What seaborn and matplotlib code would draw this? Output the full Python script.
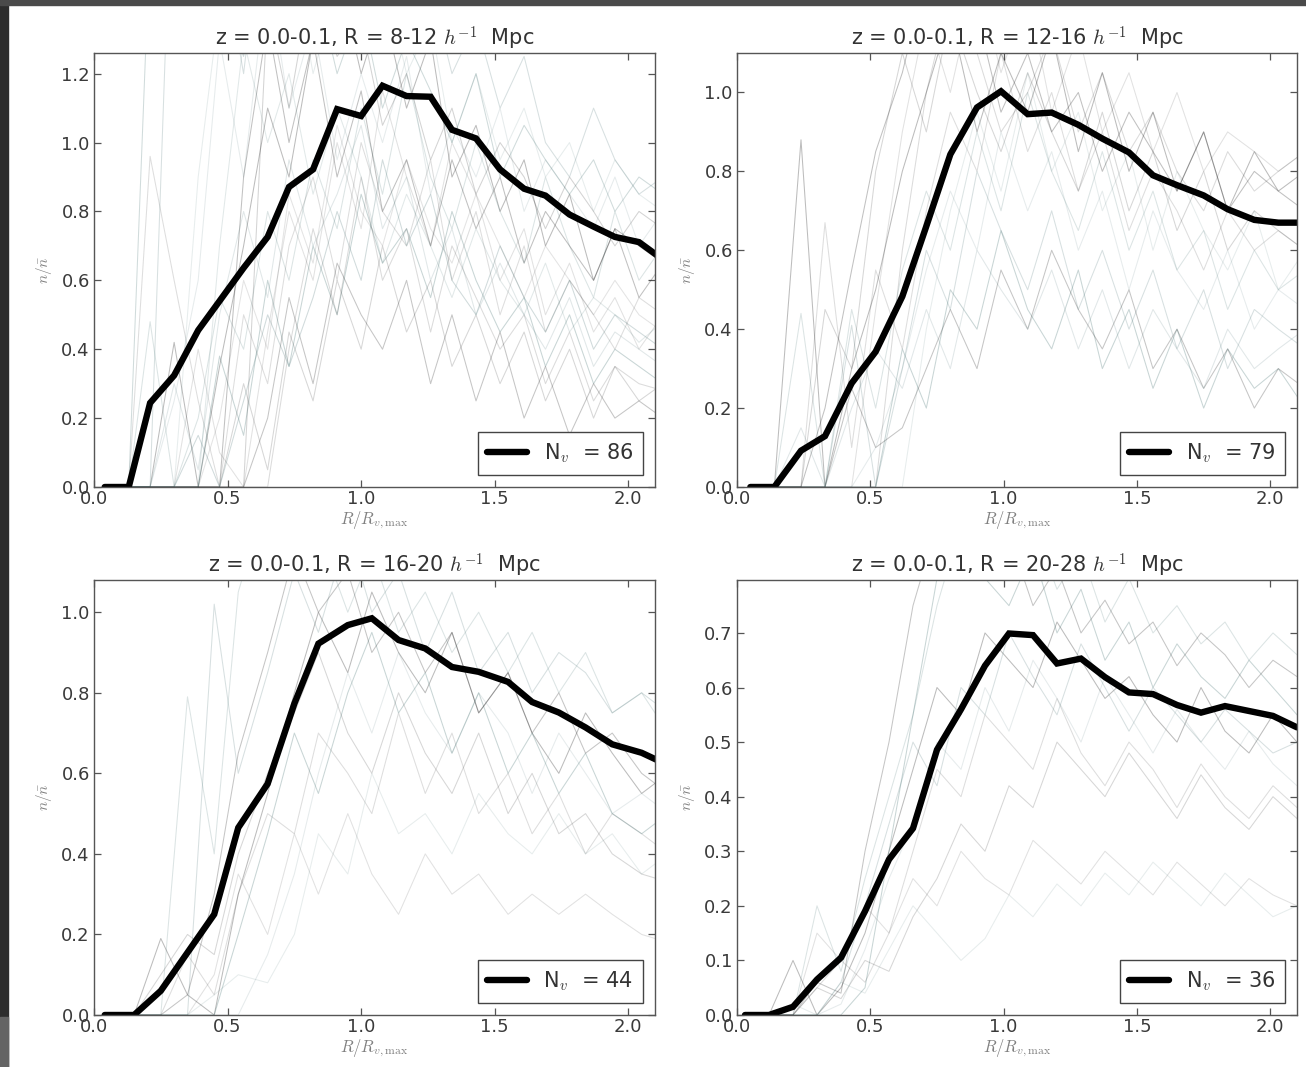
import matplotlib
matplotlib.use("Agg")
import matplotlib.pyplot as plt
from matplotlib.patches import Rectangle
from matplotlib.ticker import MultipleLocator, FormatStrFormatter
import seaborn as sns

# ---- radial bins (R / R_v,max) for each void-size bin ----
r_8_12 = [0.04, 0.13, 0.21, 0.30, 0.39, 0.47, 0.56, 0.65, 0.73, 0.82, 0.91, 1.00, 1.08,
          1.17, 1.26, 1.34, 1.43, 1.52, 1.61, 1.69, 1.78, 1.87, 1.95, 2.04, 2.13]
r_12_16 = [0.05, 0.14, 0.24, 0.33, 0.43, 0.52, 0.62, 0.71, 0.80, 0.90, 0.99, 1.09,
           1.18, 1.28, 1.37, 1.47, 1.56, 1.65, 1.75, 1.84, 1.94, 2.03, 2.13]
r_16_20 = [0.04, 0.15, 0.25, 0.35, 0.45, 0.54, 0.65, 0.75, 0.84, 0.95, 1.04, 1.14,
           1.24, 1.34, 1.44, 1.55, 1.64, 1.74, 1.84, 1.94, 2.05, 2.15]
r_20_28 = [0.03, 0.12, 0.21, 0.30, 0.39, 0.48, 0.57, 0.66, 0.75, 0.84, 0.93, 1.02,
           1.11, 1.20, 1.29, 1.38, 1.47, 1.56, 1.65, 1.74, 1.83, 1.92, 2.01, 2.10]

# ---- stacked (mean) density profiles n / n_bar ----
mean_8_12 = [0, 0, 0.244, 0.324, 0.455, 0.54, 0.636, 0.726, 0.871, 0.922, 1.097, 1.077,
             1.165, 1.135, 1.133, 1.037, 1.012, 0.922, 0.866, 0.846, 0.791, 0.756,
             0.726, 0.711, 0.66]
mean_12_16 = [0, 0, 0.092, 0.129, 0.263, 0.343, 0.483, 0.661, 0.843, 0.962, 1.003,
              0.945, 0.949, 0.918, 0.883, 0.848, 0.79, 0.765, 0.739, 0.704, 0.677,
              0.67, 0.67]
mean_16_20 = [0, 0, 0.06, 0.155, 0.25, 0.465, 0.574, 0.773, 0.922, 0.968, 0.985, 0.931,
              0.91, 0.864, 0.852, 0.827, 0.777, 0.751, 0.714, 0.672, 0.651, 0.62]
mean_20_28 = [0, 0, 0.015, 0.065, 0.105, 0.19, 0.285, 0.342, 0.486, 0.56, 0.64, 0.699,
              0.696, 0.644, 0.653, 0.619, 0.591, 0.588, 0.568, 0.554, 0.566, 0.557,
              0.548, 0.527]

# ---- individual void profiles ----
voids_8_12 = [
    [0, 0, 0, 0.42, 0, 0.35, 0.7, 1.1, 0.9, 1.3, 1.5, 1.2, 1.4, 1.1, 1.3, 0.9, 1.05, 0.8, 0.95, 0.7, 0.85, 0.6, 0.75, 0.7, 0.65],
    [0, 0, 0.48, 0, 0.2, 0.55, 0.4, 0.8, 0.6, 0.95, 0.75, 1.1, 0.85, 1.2, 0.9, 0.75, 1.0, 0.8, 0.65, 0.9, 0.7, 0.55, 0.8, 0.6, 0.7],
    [0, 0, 0.96, 0.6, 0.25, 0, 0.5, 0.3, 0.7, 0.9, 0.6, 1.0, 0.8, 0.7, 0.95, 0.6, 0.8, 0.5, 0.7, 0.45, 0.6, 0.5, 0.4, 0.55, 0.5],
    [0, 0, 0, 2.0, 1.4, 1.6, 1.2, 1.8, 1.5, 1.3, 1.7, 1.4, 1.6, 1.3, 1.45, 1.2, 1.35, 1.1, 1.25, 1.0, 0.9, 1.1, 0.95, 0.85, 0.9],
    [0, 0, 0, 0, 0.4, 0.1, 0, 0.45, 0.8, 0.6, 1.0, 0.75, 1.15, 0.9, 0.7, 1.0, 0.85, 0.6, 0.75, 0.5, 0.65, 0.45, 0.55, 0.4, 0.5],
    [0, 0, 0, 0, 0, 0.38, 0.15, 0.6, 0.35, 0.7, 0.5, 0.85, 0.65, 0.75, 0.55, 0.8, 0.6, 0.45, 0.55, 0.35, 0.5, 0.3, 0.4, 0.35, 0.3],
    [0, 0, 0, 0, 0, 0, 0.3, 0.05, 0.45, 0.25, 0.6, 0.4, 0.7, 0.45, 0.6, 0.35, 0.5, 0.3, 0.45, 0.25, 0.4, 0.2, 0.35, 0.25, 0.3],
    [0, 0, 0, 0.25, 0.6, 1.3, 0.9, 1.5, 1.1, 1.35, 0.95, 1.2, 1.0, 1.25, 0.85, 1.05, 0.9, 1.1, 0.8, 0.95, 0.85, 0.75, 0.9, 0.7, 0.8],
    [0, 0, 0, 0, 0, 0, 0, 0.2, 0.55, 0.3, 0.65, 0.5, 0.4, 0.6, 0.3, 0.5, 0.25, 0.45, 0.2, 0.35, 0.15, 0.3, 0.2, 0.25, 0.2],
    [0, 0, 0, 0, 0.9, 1.4, 1.7, 1.3, 1.6, 1.2, 1.45, 1.3, 1.5, 1.2, 1.35, 1.0, 1.2, 0.95, 1.1, 0.9, 1.0, 0.8, 0.95, 0.85, 0.8],
    [0, 0, 0, 0, 0, 0, 0.9, 1.35, 1.0, 1.3, 0.9, 1.15, 0.8, 0.95, 0.7, 0.95, 0.75, 0.9, 0.65, 0.8, 0.7, 0.6, 0.75, 0.55, 0.65],
    [0, 0, 0, 0.3, 0.05, 0.5, 0.8, 0.55, 0.95, 0.7, 0.85, 1.05, 0.75, 0.9, 0.6, 0.75, 0.5, 0.65, 0.5, 0.4, 0.55, 0.35, 0.45, 0.4, 0.35],
    [0, 0, 0, 0, 0, 0, 0, 0, 0.4, 0.75, 0.5, 0.9, 0.6, 0.75, 0.45, 0.7, 0.55, 0.4, 0.5, 0.3, 0.45, 0.25, 0.35, 0.3, 0.28],
    [0, 0, 1.6, 1.3, 1.9, 1.5, 1.25, 1.6, 1.35, 1.5, 1.2, 1.4, 1.1, 1.3, 1.15, 1.0, 1.2, 0.9, 1.05, 0.95, 0.85, 0.95, 0.8, 0.9, 0.85],
    [0, 0, 0, 0, 0, 0.2, 0.6, 0.4, 0.85, 0.65, 1.05, 0.8, 0.7, 0.95, 0.75, 0.65, 0.85, 0.7, 0.55, 0.7, 0.6, 0.5, 0.6, 0.5, 0.45],
    [0, 0, 0, 0, 0.15, 0, 0.25, 0.5, 0.35, 0.55, 0.8, 0.6, 0.95, 0.7, 0.85, 0.6, 0.5, 0.7, 0.55, 0.45, 0.6, 0.4, 0.5, 0.45, 0.4],
    [0, 0, 0, 0, 0, 0, 0, 1.4, 1.1, 1.5, 1.25, 1.35, 1.05, 1.2, 0.95, 1.1, 0.85, 1.0, 0.9, 0.75, 0.9, 0.8, 0.7, 0.8, 0.75],
    [0, 0, 0, 0, 0, 0.7, 1.3, 1.0, 1.2, 0.85, 1.1, 0.9, 0.65, 0.85, 0.7, 0.55, 0.75, 0.6, 0.5, 0.65, 0.45, 0.55, 0.5, 0.42, 0.48],
]
voids_12_16 = [
    [0, 0, 0.88, 0, 0.3, 0.5, 0.8, 1.0, 1.2, 0.9, 1.1, 0.95, 1.15, 0.85, 1.05, 0.8, 0.95, 0.75, 0.9, 0.7, 0.85, 0.75, 0.8],
    [0, 0, 0.44, 0, 0.45, 0.2, 0.55, 0.75, 0.6, 0.9, 0.7, 1.0, 0.8, 0.65, 0.85, 0.6, 0.75, 0.55, 0.65, 0.45, 0.6, 0.5, 0.55],
    [0, 0, 0, 0.67, 0.1, 0.55, 0.35, 0.7, 0.95, 0.8, 1.1, 0.85, 1.0, 0.75, 0.9, 0.65, 0.8, 0.7, 0.55, 0.7, 0.6, 0.65, 0.6],
    [0, 0, 0, 0, 0.41, 0, 0.3, 0.6, 0.45, 0.8, 0.65, 0.5, 0.7, 0.45, 0.6, 0.4, 0.55, 0.35, 0.5, 0.3, 0.45, 0.4, 0.35],
    [0, 0, 0, 0, 0, 0.45, 0.9, 1.2, 1.0, 1.3, 1.05, 1.25, 0.95, 1.15, 0.9, 1.05, 0.85, 1.0, 0.8, 0.9, 0.85, 0.8, 0.85],
    [0, 0, 0, 0, 0, 0, 0.35, 0.2, 0.5, 0.4, 0.65, 0.45, 0.35, 0.55, 0.3, 0.45, 0.25, 0.4, 0.2, 0.35, 0.25, 0.3, 0.2],
    [0, 0, 0, 0.45, 0.3, 0.8, 1.1, 0.9, 1.2, 1.0, 0.85, 1.05, 0.9, 0.75, 0.95, 0.7, 0.85, 0.65, 0.8, 0.6, 0.7, 0.65, 0.6],
    [0, 0, 0, 0, 0, 0.1, 0.3, 0.55, 0.75, 0.6, 0.9, 0.7, 0.85, 0.6, 0.75, 0.5, 0.7, 0.55, 0.45, 0.6, 0.4, 0.5, 0.45],
    [0, 0, 0, 0, 0.25, 0.1, 0.15, 0.3, 0.45, 0.3, 0.55, 0.4, 0.6, 0.45, 0.35, 0.5, 0.3, 0.4, 0.25, 0.35, 0.2, 0.3, 0.25],
    [0, 0, 0, 0, 0, 0, 0, 0.4, 0.7, 0.95, 0.75, 1.05, 0.8, 0.95, 0.7, 0.85, 0.6, 0.8, 0.65, 0.55, 0.7, 0.5, 0.6],
    [0, 0, 0, 0.2, 0.55, 0.85, 1.05, 1.3, 1.1, 1.2, 0.95, 1.1, 0.9, 1.0, 0.8, 0.95, 0.85, 0.75, 0.9, 0.7, 0.8, 0.75, 0.7],
    [0, 0, 0.15, 0, 0.2, 0.35, 0.25, 0.45, 0.3, 0.6, 0.5, 0.4, 0.55, 0.35, 0.5, 0.3, 0.45, 0.35, 0.25, 0.4, 0.3, 0.35, 0.4],
    [0, 0, 0, 0, 0, 0, 0.6, 1.0, 1.25, 1.1, 0.9, 1.0, 1.15, 0.9, 1.05, 0.85, 0.95, 0.8, 0.7, 0.85, 0.75, 0.8, 0.85],
]
voids_16_20 = [
    [0, 0, 0.19, 0.05, 0, 0.3, 0.55, 0.8, 1.0, 0.85, 1.05, 0.9, 0.8, 0.95, 0.75, 0.85, 0.7, 0.6, 0.75, 0.65, 0.55, 0.6],
    [0, 0, 0, 0.79, 0.4, 1.05, 1.3, 1.1, 1.2, 1.0, 1.15, 0.95, 1.05, 0.9, 1.0, 0.85, 0.95, 0.8, 0.9, 0.75, 0.8, 0.7],
    [0, 0, 0, 0.15, 0.05, 0.3, 0.5, 0.45, 0.7, 0.6, 0.5, 0.75, 0.55, 0.7, 0.5, 0.6, 0.45, 0.55, 0.4, 0.5, 0.45, 0.4],
    [0, 0, 0, 0, 1.02, 0.6, 0.85, 1.1, 0.95, 1.2, 1.0, 1.1, 0.9, 1.05, 0.85, 0.95, 0.8, 0.9, 0.85, 0.75, 0.8, 0.75],
    [0, 0, 0, 0, 0.1, 0.35, 0.2, 0.45, 0.3, 0.5, 0.35, 0.25, 0.4, 0.3, 0.35, 0.25, 0.3, 0.25, 0.3, 0.25, 0.2, 0.18],
    [0, 0, 0, 0, 0, 0.2, 0.45, 0.7, 0.55, 0.8, 0.95, 0.75, 0.85, 0.65, 0.8, 0.6, 0.7, 0.55, 0.65, 0.5, 0.45, 0.5],
    [0, 0, 0.1, 0.2, 0.15, 0.4, 0.6, 0.75, 0.9, 0.7, 0.6, 0.8, 0.65, 0.55, 0.7, 0.5, 0.6, 0.45, 0.5, 0.4, 0.35, 0.33],
    [0, 0, 0, 0, 0, 0, 0.15, 0.35, 0.6, 0.85, 0.7, 0.9, 0.75, 0.65, 0.8, 0.7, 0.55, 0.7, 0.6, 0.5, 0.55, 0.5],
    [0, 0, 0, 0.05, 0.3, 0.65, 0.9, 1.15, 1.0, 1.1, 0.9, 1.0, 0.85, 0.95, 0.75, 0.85, 0.7, 0.8, 0.65, 0.7, 0.6, 0.55],
    [0, 0, 0, 0, 0.05, 0.1, 0.08, 0.2, 0.45, 0.35, 0.6, 0.45, 0.5, 0.4, 0.55, 0.45, 0.4, 0.5, 0.4, 0.45, 0.35, 0.4],
]
voids_20_28 = [
    [0, 0, 0.1, 0.0, 0.05, 0.15, 0.3, 0.45, 0.6, 0.55, 0.7, 0.65, 0.6, 0.72, 0.65, 0.58, 0.62, 0.55, 0.5, 0.6, 0.52, 0.48, 0.55, 0.5],
    [0, 0, 0, 0.2, 0.08, 0.25, 0.4, 0.55, 0.75, 0.9, 0.85, 0.8, 0.9, 0.78, 0.85, 0.72, 0.8, 0.7, 0.75, 0.68, 0.72, 0.65, 0.7, 0.66],
    [0, 0, 0, 0.05, 0.1, 0.06, 0.15, 0.3, 0.45, 0.4, 0.55, 0.5, 0.45, 0.58, 0.48, 0.42, 0.5, 0.45, 0.38, 0.46, 0.4, 0.36, 0.42, 0.38],
    [0, 0, 0, 0, 0.06, 0.2, 0.35, 0.5, 0.42, 0.6, 0.55, 0.7, 0.62, 0.55, 0.68, 0.6, 0.52, 0.6, 0.55, 0.5, 0.56, 0.52, 0.48, 0.5],
    [0, 0, 0, 0.15, 0.1, 0.2, 0.15, 0.25, 0.2, 0.3, 0.25, 0.22, 0.32, 0.28, 0.24, 0.3, 0.26, 0.22, 0.28, 0.24, 0.2, 0.25, 0.22, 0.2],
    [0, 0, 0, 0, 0, 0.05, 0.3, 0.55, 0.8, 0.95, 0.8, 0.75, 0.85, 0.7, 0.78, 0.65, 0.72, 0.6, 0.68, 0.62, 0.58, 0.65, 0.6, 0.55],
    [0, 0, 0, 0.05, 0.03, 0.1, 0.08, 0.18, 0.25, 0.35, 0.3, 0.42, 0.38, 0.5, 0.45, 0.4, 0.48, 0.42, 0.36, 0.44, 0.38, 0.34, 0.4, 0.36],
    [0, 0, 0, 0, 0.02, 0.12, 0.25, 0.35, 0.5, 0.45, 0.6, 0.52, 0.65, 0.58, 0.5, 0.62, 0.55, 0.48, 0.56, 0.5, 0.45, 0.52, 0.46, 0.42],
    [0, 0, 0, 0.06, 0.04, 0.3, 0.5, 0.75, 0.9, 0.85, 0.8, 0.88, 0.75, 0.82, 0.7, 0.76, 0.68, 0.72, 0.64, 0.7, 0.66, 0.6, 0.65, 0.62],
    [0, 0, 0.02, 0, 0.06, 0.04, 0.12, 0.2, 0.15, 0.1, 0.14, 0.22, 0.18, 0.24, 0.2, 0.26, 0.22, 0.28, 0.24, 0.2, 0.26, 0.22, 0.18, 0.2],
]

size_bins = ["8-12", "12-16", "16-20", "20-28"]
n_voids = [86, 79, 44, 36]
y_tops = [1.26, 1.10, 1.08, 0.797]
y_steps = [0.2, 0.2, 0.2, 0.1]

sns.set_theme(style="white")
plt.rcParams.update({
    "font.family": ["DejaVu Sans"],
    "mathtext.fontset": "cm",
    "axes.edgecolor": "#555555",
    "axes.linewidth": 1.0,
    "xtick.direction": "in", "ytick.direction": "in",
    "xtick.bottom": True, "xtick.top": True,
    "ytick.left": True, "ytick.right": True,
    "xtick.major.size": 5, "ytick.major.size": 5,
    "xtick.major.width": 0.9, "ytick.major.width": 0.9,
    "xtick.color": "#555555", "ytick.color": "#555555",
    "xtick.labelcolor": "#3a3a3a", "ytick.labelcolor": "#3a3a3a",
    "xtick.labelsize": 13, "ytick.labelsize": 13,
    "xtick.major.pad": 2, "ytick.major.pad": 3,
})

fig = plt.figure(figsize=(13.06, 10.67), dpi=100)
fig.patch.set_facecolor("white")

# dark frame strips along the left and top edges
fig.add_artist(Rectangle((0, 0), 8 / 1306, 1, transform=fig.transFigure,
                         color="#2d2d2d", zorder=0))
fig.add_artist(Rectangle((0, 0), 8 / 1306, 50 / 1067, transform=fig.transFigure,
                         color="#646464", zorder=0))
fig.add_artist(Rectangle((0, 1 - 5 / 1067), 1, 5 / 1067, transform=fig.transFigure,
                         color="#4a4a4a", zorder=0))

boxes = [
    [94 / 1306, 1 - 487 / 1067, 561 / 1306, 434 / 1067],
    [737 / 1306, 1 - 487 / 1067, 560 / 1306, 434 / 1067],
    [94 / 1306, 1 - 1015 / 1067, 561 / 1306, 435 / 1067],
    [737 / 1306, 1 - 1015 / 1067, 560 / 1306, 435 / 1067],
]

radii = [r_8_12, r_12_16, r_16_20, r_20_28]
means = [mean_8_12, mean_12_16, mean_16_20, mean_20_28]
voids = [voids_8_12, voids_12_16, voids_16_20, voids_20_28]

thin_colors = ["#111111", "#3d6b6b", "#222222", "#5a7f80"]
thin_alphas = [0.28, 0.18, 0.15, 0.24, 0.12]

for k in range(4):
    ax = fig.add_axes(boxes[k])
    r = radii[k]
    for j, prof in enumerate(voids[k]):
        sns.lineplot(x=r, y=prof, ax=ax, color=thin_colors[j % 4],
                     alpha=thin_alphas[j % 5], linewidth=0.75, estimator=None,
                     sort=False)
    sns.lineplot(x=r, y=means[k], ax=ax, color="black", linewidth=4.6,
                 estimator=None, sort=False, label=f"N$_v$  = {n_voids[k]}",
                 solid_joinstyle="miter")

    ax.set_xlim(0, 2.1)
    ax.set_ylim(0, y_tops[k])
    ax.xaxis.set_major_locator(MultipleLocator(0.5))
    ax.yaxis.set_major_locator(MultipleLocator(y_steps[k]))
    ax.xaxis.set_major_formatter(FormatStrFormatter("%.1f"))
    ax.yaxis.set_major_formatter(FormatStrFormatter("%.1f"))
    for s in ax.spines.values():
        s.set_visible(True)
        s.set_color("#555555")

    ax.set_title(f"z = 0.0-0.1, R = {size_bins[k]} $h^{{-1}}$  Mpc",
                 fontsize=15, color="#333333", pad=5)
    ax.set_xlabel(r"$R/R_{v,\mathrm{max}}$", fontsize=12, color="#808080",
                  labelpad=1)
    ax.set_ylabel(r"$n/\bar{n}$", fontsize=11, color="#808080", labelpad=5)

    handles, labels = ax.get_legend_handles_labels()
    leg = ax.legend(handles[-1:], labels[-1:], loc="lower right", fontsize=15,
                    frameon=True, fancybox=False, framealpha=1,
                    edgecolor="#444444", borderaxespad=0.6, handlelength=1.9,
                    borderpad=0.45)
    leg.get_frame().set_linewidth(1.0)
    for t in leg.get_texts():
        t.set_color("#333333")

fig.savefig("out.png", dpi=100, facecolor=fig.get_facecolor())
